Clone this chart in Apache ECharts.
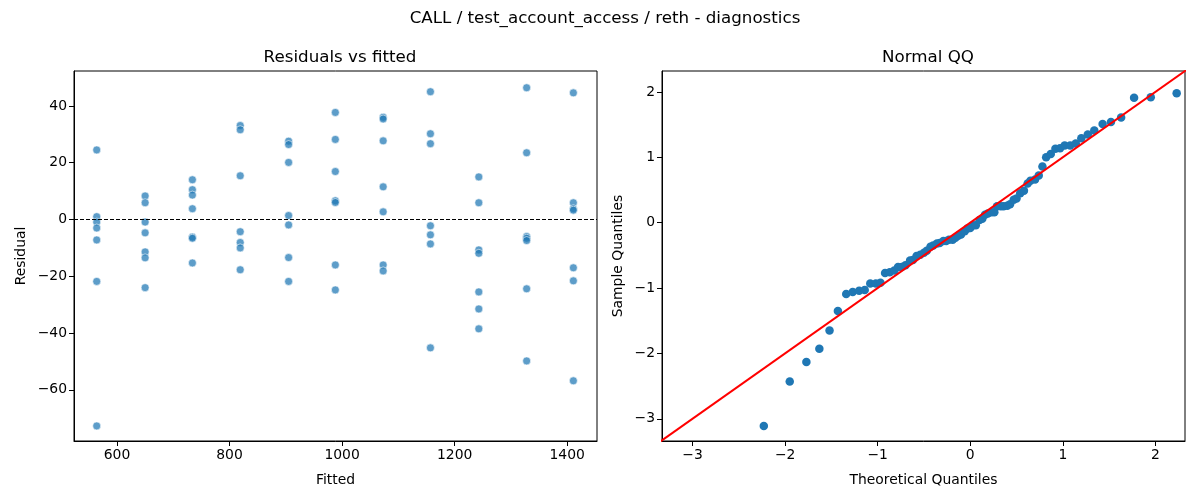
<!DOCTYPE html>
<html>
<head>
<meta charset="utf-8">
<title>diagnostics</title>
<script src="https://cdn.jsdelivr.net/npm/echarts@6.0.0/dist/echarts.min.js"></script>
<style>
  html, body { margin: 0; padding: 0; background: #fff; }
  #main { width: 1200px; height: 500px; }
</style>
</head>
<body>
<div id="main"></div>
<script>
// fitted levels (x of each column in the left panel)
var fittedLevels = [564, 650, 734, 819, 905, 988, 1073, 1157, 1243, 1328, 1411];

// residuals read per fitted level (7 per column)
var residualsByLevel = [
    [24.5, 1.0, -0.9, -3.0, -7.2, -21.8, -72.7],
    [8.3, 5.9, -0.9, -4.7, -11.4, -13.5, -24.0],
    [14.0, 10.5, 8.6, 3.8, -6.2, -6.6, -15.3],
    [33.1, 31.6, 15.4, -4.3, -8.1, -10.0, -17.7],
    [27.6, 26.4, 20.1, 1.4, -1.9, -13.4, -21.8],
    [37.7, 28.2, 16.9, 6.6, 6.0, -16.0, -24.8],
    [36.0, 35.4, 27.7, 11.5, 2.7, -16.0, -18.1],
    [45.0, 30.2, 26.7, -2.2, -5.4, -8.6, -45.2],
    [15.0, 5.9, -10.7, -11.9, -25.5, -31.5, -38.5],
    [46.4, 23.5, -6.0, -6.6, -7.4, -24.4, -49.8],
    [44.6, 5.9, 3.8, 3.3, -17.0, -21.6, -56.8]
];

// QQ plot: theoretical quantiles and sample quantiles
var qqTheoretical = [
    -2.23, -1.95, -1.77, -1.63, -1.52, -1.43, -1.34, -1.27, -1.20, -1.14,
    -1.08, -1.02, -0.97, -0.92, -0.87, -0.82, -0.78, -0.74, -0.70, -0.65,
    -0.62, -0.58, -0.54, -0.50, -0.47, -0.43, -0.40, -0.36, -0.33, -0.29,
    -0.26, -0.23, -0.19, -0.16, -0.13, -0.10, -0.06, -0.03, 0.00, 0.03,
    0.06, 0.10, 0.13, 0.16, 0.19, 0.23, 0.26, 0.29, 0.33, 0.36,
    0.40, 0.43, 0.47, 0.50, 0.54, 0.58, 0.62, 0.65, 0.70, 0.74,
    0.78, 0.82, 0.87, 0.92, 0.97, 1.02, 1.08, 1.14, 1.20, 1.27,
    1.34, 1.43, 1.52, 1.63, 1.77, 1.95, 2.23
];
var qqSample = [
    -3.11, -2.43, -2.13, -1.93, -1.65, -1.35, -1.09, -1.06, -1.04, -1.03,
    -0.93, -0.93, -0.92, -0.77, -0.76, -0.73, -0.68, -0.68, -0.65, -0.58,
    -0.57, -0.51, -0.49, -0.46, -0.43, -0.37, -0.35, -0.32, -0.31, -0.28,
    -0.28, -0.26, -0.26, -0.23, -0.20, -0.18, -0.13, -0.09, -0.08, -0.04,
    -0.04, 0.04, 0.06, 0.12, 0.14, 0.16, 0.16, 0.25, 0.25, 0.25,
    0.26, 0.28, 0.35, 0.37, 0.45, 0.49, 0.60, 0.64, 0.66, 0.72,
    0.86, 1.00, 1.05, 1.13, 1.14, 1.18, 1.18, 1.21, 1.29, 1.35,
    1.41, 1.51, 1.54, 1.61, 1.91, 1.92, 1.98
];

// tick labels
var fittedTicks = [600, 800, 1000, 1200, 1400];
var residualTicks = [-60, -40, -20, 0, 20, 40];
var qqTicks = [-3, -2, -1, 0, 1, 2];

var FONT = 'DejaVu Sans';

var myChart = echarts.init(document.getElementById('main'), null, { renderer: 'canvas' });

// build scatter points for left panel
var residPoints = [];
for (let i = 0; i < fittedLevels.length; i++) {
    for (let j = 0; j < residualsByLevel[i].length; j++) {
        residPoints.push([fittedLevels[i], residualsByLevel[i][j]]);
    }
}

var qqPoints = [];
for (let i = 0; i < qqTheoretical.length; i++) {
    qqPoints.push([qqTheoretical[i], qqSample[i]]);
}

// matplotlib style: unicode minus, no thousands separator
function tickFmt(v) {
    return String(v).replace('-', '\u2212');
}

function axisCommon(ticks) {
    return {
        axisLine: { show: true, onZero: false, lineStyle: { color: '#000', width: 1 } },
        splitLine: { show: false },
        axisTick: {
            show: true, length: 5, inside: false,
            customValues: ticks,
            lineStyle: { color: '#000', width: 1 }
        },
        axisLabel: {
            customValues: ticks,
            formatter: tickFmt,
            color: '#000', fontFamily: FONT, fontSize: 13.9, margin: 7
        },
        nameTextStyle: { color: '#000', fontFamily: FONT, fontSize: 13.9 }
    };
}

var option = {
    animation: false,
    backgroundColor: '#fff',
    title: [{
        text: 'CALL / test_account_access / reth - diagnostics',
        left: 600, top: 5, textAlign: 'center',
        textStyle: { color: '#000', fontFamily: FONT, fontSize: 16.7, fontWeight: 'normal' }
    }, {
        text: 'Residuals vs fitted',
        left: 335, top: 44, textAlign: 'center',
        textStyle: { color: '#000', fontFamily: FONT, fontSize: 16.7, fontWeight: 'normal' }
    }, {
        text: 'Normal QQ',
        left: 923, top: 44, textAlign: 'center',
        textStyle: { color: '#000', fontFamily: FONT, fontSize: 16.7, fontWeight: 'normal' }
    }],
    grid: [
        { left: 74, top: 71, width: 523, height: 370, show: true, borderColor: '#000', borderWidth: 1, backgroundColor: 'transparent' },
        { left: 662, top: 71, width: 523, height: 370, show: true, borderColor: '#000', borderWidth: 1, backgroundColor: 'transparent' }
    ],
    xAxis: [
        Object.assign(axisCommon(fittedTicks), {
            type: 'value', gridIndex: 0, min: 523.6, max: 1453,
            name: 'Fitted', nameLocation: 'middle', nameGap: 32
        }),
        Object.assign(axisCommon(qqTicks), {
            type: 'value', gridIndex: 1, min: -3.33, max: 2.32,
            name: 'Theoretical Quantiles', nameLocation: 'middle', nameGap: 32
        })
    ],
    yAxis: [
        Object.assign(axisCommon(residualTicks), {
            type: 'value', gridIndex: 0, min: -78, max: 52.3,
            name: 'Residual', nameLocation: 'middle', nameGap: 46
        }),
        Object.assign(axisCommon(qqTicks), {
            type: 'value', gridIndex: 1, min: -3.34, max: 2.32,
            name: 'Sample Quantiles', nameLocation: 'middle', nameGap: 37
        })
    ],
    series: [{
        name: 'residuals',
        type: 'scatter',
        xAxisIndex: 0, yAxisIndex: 0,
        data: residPoints,
        symbolSize: 8,
        itemStyle: { color: '#1f77b4', opacity: 0.72, borderColor: '#fff', borderWidth: 0.8 },
        markLine: {
            silent: true,
            symbol: 'none',
            label: { show: false },
            lineStyle: { color: '#000', width: 1, type: [4, 2] },
            data: [{ yAxis: 0 }]
        }
    }, {
        name: 'qq line',
        type: 'line',
        xAxisIndex: 1, yAxisIndex: 1,
        data: [[-3.4, -3.4], [2.4, 2.4]],
        showSymbol: false,
        clip: true,
        lineStyle: { color: '#ff0000', width: 2 },
        z: 3
    }, {
        name: 'qq',
        type: 'scatter',
        xAxisIndex: 1, yAxisIndex: 1,
        data: qqPoints,
        symbolSize: 8.5,
        itemStyle: { color: '#1f77b4', opacity: 1 },
        z: 2
    }]
};

myChart.setOption(option);
</script>
</body>
</html>
